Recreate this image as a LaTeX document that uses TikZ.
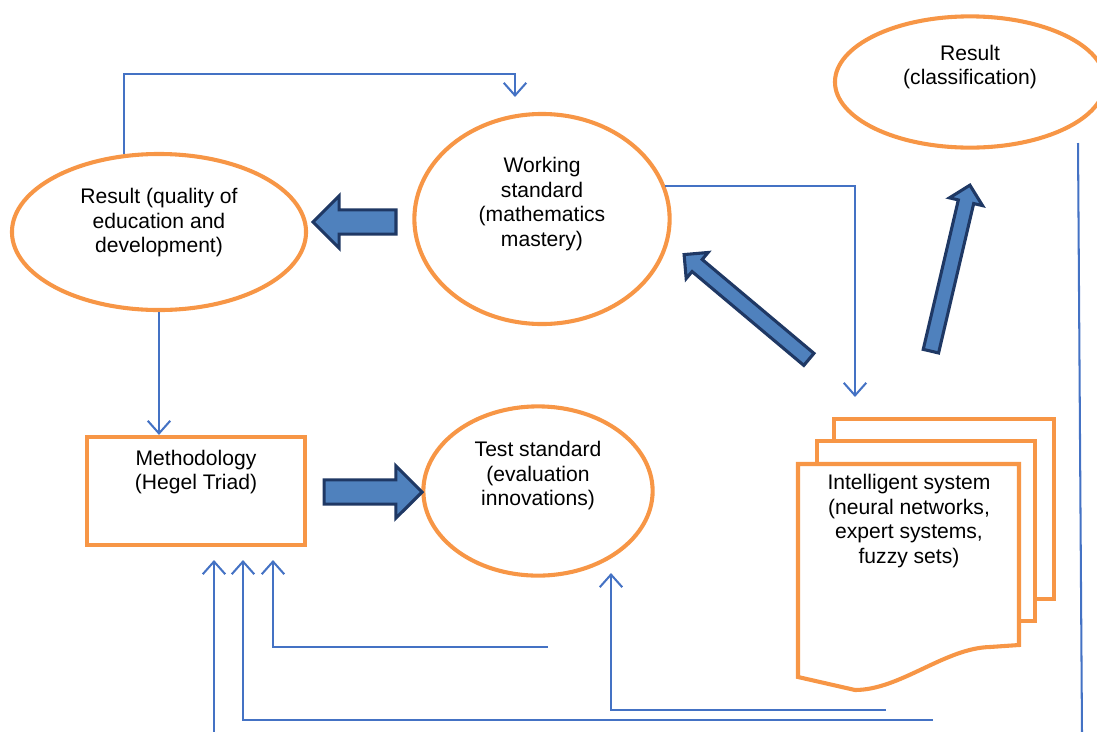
\documentclass[tikz,border=0pt]{standalone}
\usepackage{fontspec}
\setmainfont{Liberation Sans}
\usetikzlibrary{arrows.meta,shapes.geometric,shapes.arrows,calc}
\definecolor{frameorange}{RGB}{247,150,70}
\definecolor{lineblue}{RGB}{68,114,196}
\definecolor{arrowblue}{RGB}{79,129,189}
\definecolor{arrowdark}{RGB}{31,56,100}
\begin{document}
\begin{tikzpicture}[x=0.025cm,y=-0.025cm,
  >={Straight Barb[length=9pt,width=16pt]},
  txt/.style={font=\fontsize{15}{17.4}\selectfont,align=center},
  oval/.style={txt,ellipse,draw=frameorange,line width=2.9pt,inner sep=0pt},
  box/.style={txt,rectangle,draw=frameorange,line width=2.9pt},
  page/.style={draw=frameorange,line width=2.9pt,fill=white},
  flow/.style={draw=lineblue,line width=1.45pt},
  blk/.style={single arrow,draw=arrowdark,fill=arrowblue,line width=2.2pt,
    inner xsep=0pt,sloped,allow upside down,single arrow head extend=#1}]
\useasboundingbox (0,0) rectangle (1097,731);
% nodes
\node[oval,minimum width=7.35cm,minimum height=3.9cm,text depth=16pt] (res) at (159,232) {Result (quality of\\education and\\development)};
\node[oval,minimum width=6.38cm,minimum height=5.25cm,text depth=24.5pt] (ws) at (542,219) {Working\\standard\\(mathematics\\mastery)};
\node[oval,minimum width=6.75cm,minimum height=3.28cm,text depth=24.5pt] (cls) at (970,82) {Result\\(classification)};
\node[box,minimum width=5.45cm,minimum height=2.7cm,text depth=30pt] (meth) at (196,491) {Methodology\\(Hegel Triad)};
\node[oval,minimum width=5.73cm,minimum height=4.23cm,text depth=24.5pt] (ts) at (538,491) {Test standard\\(evaluation\\innovations)};
% stacked documents
\draw[page] (834,419) rectangle (1054,599);
\draw[page] (817,441) rectangle (1035,621);
\draw[page] (798,464) -- (1019,464) -- (1019,645) -- (990,647)
  .. controls (945,648) and (900,690) .. (855,690) -- (798,677) -- cycle;
\node[txt] (intel) at (909,521) {Intelligent system\\(neural networks,\\expert systems,\\fuzzy sets)};
% free ends
\coordinate (wstop) at (515,74);
\coordinate (wsin) at (515,97);
\coordinate (docin) at (855,397);
\coordinate (m1) at (214,560);
\coordinate (m2) at (243,560);
\coordinate (m3) at (273,560);
\coordinate (tsin) at (611,573);
\coordinate (f1) at (548,647);
\coordinate (f2) at (933,720);
\coordinate (f3) at (214,735);
\coordinate (f4) at (886,710);
\coordinate (r0) at (1078,143);
\coordinate (r1) at (1082,735);
% thin connectors
\draw[flow,->] (res.114) |- (wstop) -- (wsin);
\draw[flow,->] (ws.15) -| (docin);
\draw[flow,->] (res.south) -- (res.south |- meth.north);
\draw[flow,->] (f1) -| (m3);
\draw[flow,->] (f2) -| (m2);
\draw[flow,->] (f3) -- (m1);
\draw[flow,->] (f4) -| (tsin);
\draw[flow] (r0) -- (r1);
% block arrows
\coordinate (a1s) at (402,222);
\coordinate (a1t) at (319,222);
\coordinate (a2s) at (318,492);
\coordinate (a2t) at (416,492);
\coordinate (a3s) at (812,362);
\coordinate (a3t) at (687,257);
\coordinate (a4s) at (930,355);
\coordinate (a4t) at (969,189);
\path let \p1=($(a1t)-(a1s)$),\n1={veclen(\x1,\y1)} in (a1s) -- node[blk=10pt,inner ysep=7.5pt,minimum height=\n1]{} (a1t);
\path let \p1=($(a2t)-(a2s)$),\n1={veclen(\x1,\y1)} in (a2s) -- node[blk=10pt,inner ysep=7.5pt,minimum height=\n1]{} (a2t);
\path let \p1=($(a3t)-(a3s)$),\n1={veclen(\x1,\y1)} in (a3s) -- node[blk=6.5pt,inner ysep=4.5pt,minimum height=\n1]{} (a3t);
\path let \p1=($(a4t)-(a4s)$),\n1={veclen(\x1,\y1)} in (a4s) -- node[blk=6.5pt,inner ysep=4.5pt,minimum height=\n1]{} (a4t);
\end{tikzpicture}
\end{document}
